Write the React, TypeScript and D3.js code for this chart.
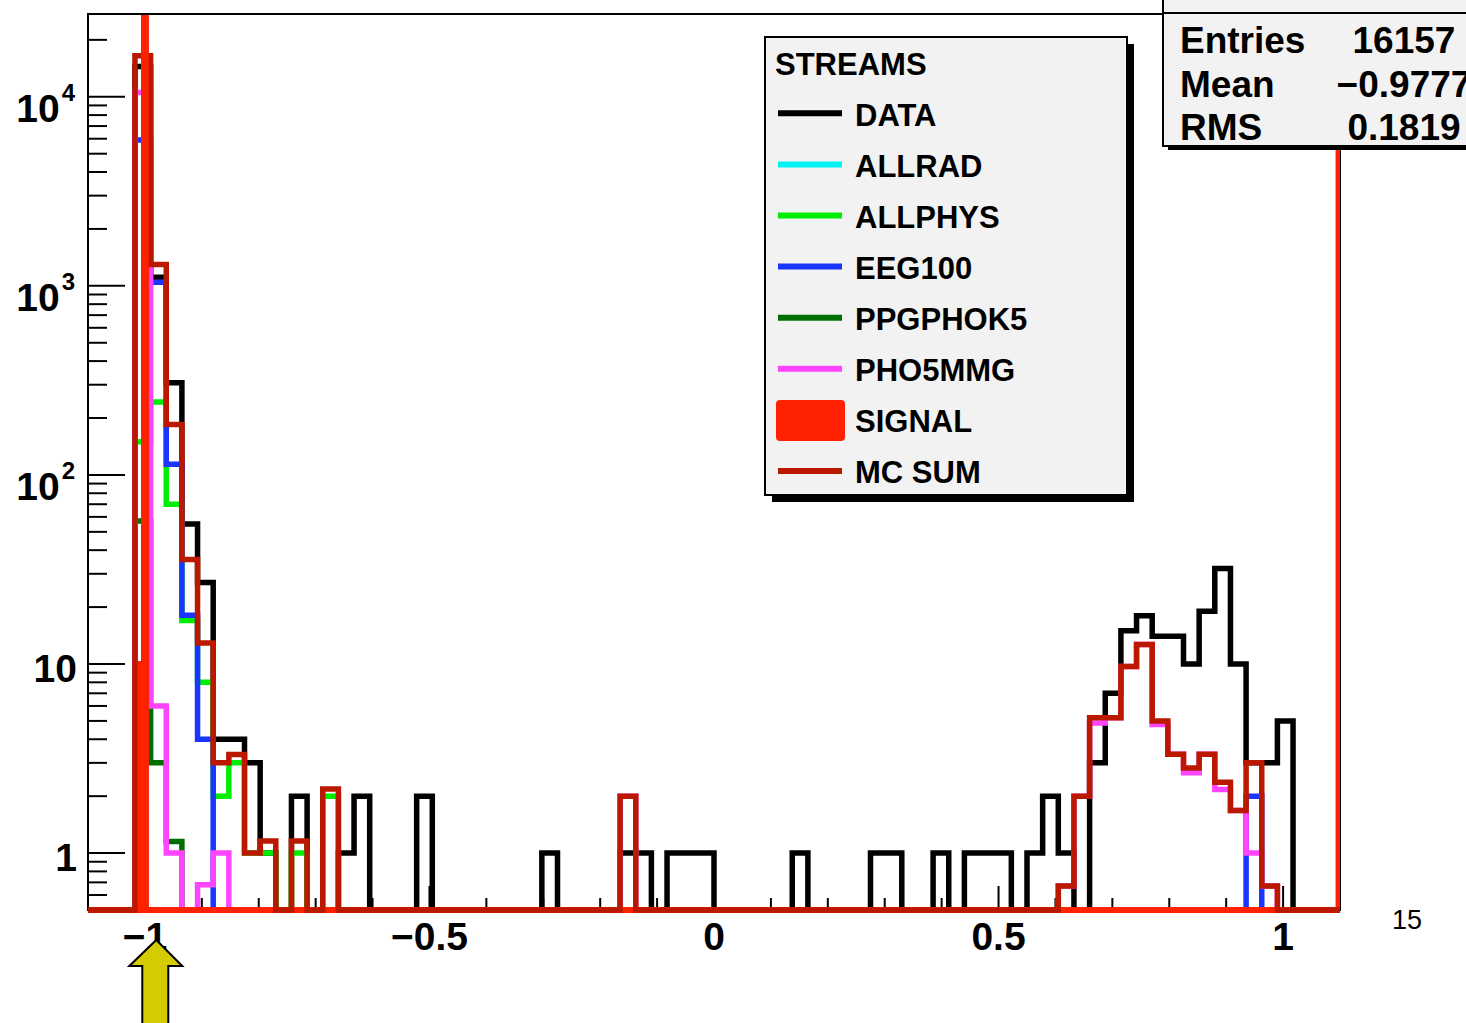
import React from "react";
import * as d3 from "d3";

// ---------- data (80 bins from -1.1 to 1.1) ----------
const xLow = -1.1;
const xHigh = 1.1;
const nBins = 80;

const dataCounts = [
  0, 0, 0, 14450, 1112, 307, 55, 27, 4, 4,
  3, 1, 0, 2, 0, 0, 1, 2, 0, 0,
  0, 2, 0, 0, 0, 0, 0, 0, 0, 1,
  0, 0, 0, 0, 1, 1, 0, 1, 1, 1,
  0, 0, 0, 0, 0, 1, 0, 0, 0, 0,
  1, 1, 0, 0, 1, 0, 1, 1, 1, 0,
  1, 2, 1, 0, 3, 7, 15, 18, 14, 14,
  10, 19, 32, 10, 3, 3, 5, 0, 0, 0,
];

const allradCounts = new Array(80).fill(0);

const allphysCounts = [
  0, 0, 0, 150, 243, 70, 17, 8, 2, 3,
  1, 1, 0, 1, 0, 2, 0, 0, 0, 0,
  0, 0, 0, 0, 0, 0, 0, 0, 0, 0,
  0, 0, 0, 0, 0, 0, 0, 0, 0, 0,
  0, 0, 0, 0, 0, 0, 0, 0, 0, 0,
  0, 0, 0, 0, 0, 0, 0, 0, 0, 0,
  0, 0, 0, 0, 0.33, 0, 0, 0, 0.22, 0,
  0.16, 0, 0.2, 0, 0, 0, 0, 0, 0, 0,
];

const eeg100Counts = [
  0, 0, 0, 5900, 1046, 114, 18.1, 4, 0, 0,
  0, 0, 0, 0, 0, 0, 0, 0, 0, 0,
  0, 0, 0, 0, 0, 0, 0, 0, 0, 0,
  0, 0, 0, 0, 0, 0, 0, 0, 0, 0,
  0, 0, 0, 0, 0, 0, 0, 0, 0, 0,
  0, 0, 0, 0, 0, 0, 0, 0, 0, 0,
  0, 0, 0, 0, 0, 0, 0, 0, 0, 0,
  0, 0, 0, 0, 2, 0, 0, 0, 0, 0,
];

const ppgphok5Counts = [
  0, 0, 0, 57, 3, 1.15, 0, 0, 0, 0,
  0, 0, 0, 0, 0, 0, 0, 0, 0, 0,
  0, 0, 0, 0, 0, 0, 0, 0, 0, 0,
  0, 0, 0, 0, 0, 0, 0, 0, 0, 0,
  0, 0, 0, 0, 0, 0, 0, 0, 0, 0,
  0, 0, 0, 0, 0, 0, 0, 0, 0, 0,
  0, 0, 0, 0, 0, 0, 0, 0, 0, 0,
  0, 0, 0, 0, 0, 0, 0, 0, 0, 0,
];

const pho5mmgCounts = [
  0, 0, 0, 10520, 6, 1, 0, 0.68, 1, 0,
  0, 0, 0, 0, 0, 0, 0, 0, 0, 0,
  0, 0, 0, 0, 0, 0, 0, 0, 0, 0,
  0, 0, 0, 0, 2, 0, 0, 0, 0, 0,
  0, 0, 0, 0, 0, 0, 0, 0, 0, 0,
  0, 0, 0, 0, 0, 0, 0, 0, 0, 0,
  0, 0, 0.67, 2, 4.87, 5.2, 9.7, 12.7, 4.78, 3.33,
  2.66, 3.33, 2.17, 1.68, 1, 0.67, 0, 0, 0, 0,
];

const mcSumCounts = [
  0, 0, 0, 16500, 1295, 185, 35.7, 12.9, 3, 3.32,
  1, 1.16, 0, 1.16, 0, 2.18, 0, 0, 0, 0,
  0, 0, 0, 0, 0, 0, 0, 0, 0, 0,
  0, 0, 0, 0, 2, 0, 0, 0, 0, 0,
  0, 0, 0, 0, 0, 0, 0, 0, 0, 0,
  0, 0, 0, 0, 0, 0, 0, 0, 0, 0,
  0, 0, 0.67, 2, 5.2, 5.2, 9.7, 12.7, 5, 3.33,
  2.82, 3.33, 2.37, 1.68, 3, 0.67, 0, 0, 0, 0,
];

// signal: fine, irregular bins
const signalLo = [-1.0072, -1.0016, 1.0975];
const signalHi = [-1.0016, -0.9984, 1.1];
const signalVal = [10, 300000, 300000];

const streamNames = ["DATA", "ALLRAD", "ALLPHYS", "EEG100", "PPGPHOK5", "PHO5MMG", "SIGNAL", "MC SUM"];
const streamColors = ["#000000", "#00f4f4", "#00ee00", "#1a35ff", "#006e00", "#ff44ff", "#ff2200", "#bb1800"];

const yMajorLabels = ["1", "10", "10^2", "10^3", "10^4"];
const yMajorValues = [1, 10, 100, 1000, 10000];
const xMajorValues = [-1, -0.5, 0, 0.5, 1];
const xMajorLabels = ["\u22121", "\u22120.5", "0", "0.5", "1"];

const statsLabels = ["Entries", "Mean", "RMS"];
const statsValues = ["16157", "\u22120.9777", "0.1819"];

const cutValue = -0.98;
const pageNumber = "15";

// ---------- layout ----------
const W = 1466;
const H = 1023;
const L = 88, R = 1340, T = 14, B = 910;
const yMin = 0.5, yMax = 27400;
const FONT = "'Liberation Sans', Arial, Helvetica, sans-serif";

export default function App() {
  const x = d3.scaleLinear().domain([xLow, xHigh]).range([L, R]);
  const y = d3.scaleLog().domain([yMin, yMax]).range([B, T]);
  const edges = d3.range(nBins + 1).map((i) => xLow + (i * (xHigh - xLow)) / nBins);
  const yv = (v: number) => (v > yMin ? y(v) : B);

  const histPath = (vals: number[]) => {
    const p = d3.path();
    p.moveTo(x(edges[0]), B);
    vals.forEach((v, i) => {
      p.lineTo(x(edges[i]), yv(v));
      p.lineTo(x(edges[i + 1]), yv(v));
    });
    p.lineTo(x(edges[nBins]), B);
    return p.toString();
  };

  const signalPath = (onlySpike: boolean) => {
    const p = d3.path();
    const idx = d3.range(signalLo.length).filter((i) => !onlySpike || signalLo[i] < 0);
    if (!onlySpike) p.moveTo(x(xLow), B);
    else p.moveTo(x(signalLo[idx[0]]), B);
    idx.forEach((i) => {
      p.lineTo(x(signalLo[i]), B);
      p.lineTo(x(signalLo[i]), yv(signalVal[i]));
      p.lineTo(x(signalHi[i]), yv(signalVal[i]));
      p.lineTo(x(signalHi[i]), B);
    });
    if (!onlySpike) p.lineTo(x(xHigh), B);
    return p.toString();
  };

  // y ticks
  const yMinor: number[] = [];
  [-1, 0, 1, 2, 3, 4].forEach((e) => {
    for (let k = 2; k <= 9; k++) {
      const v = k * Math.pow(10, e);
      if (v > yMin && v < yMax) yMinor.push(v);
    }
  });
  const xMinor = d3.range(-10, 11).map((i) => i / 10).filter((v) => !xMajorValues.some((m) => Math.abs(m - v) < 1e-9));

  const hists: { vals: number[]; color: string }[] = [
    { vals: dataCounts, color: streamColors[0] },
    { vals: allradCounts, color: streamColors[1] },
    { vals: allphysCounts, color: streamColors[2] },
    { vals: eeg100Counts, color: streamColors[3] },
    { vals: ppgphok5Counts, color: streamColors[4] },
    { vals: pho5mmgCounts, color: streamColors[5] },
  ];

  const lw = 5.5;
  const legX = 765, legY = 37, legW = 362, legH = 458;
  const rowY0 = 113.3, rowDY = 51.1;

  const cx = x(cutValue);

  return (
    <div style={{ position: "absolute", left: 0, top: 0 }}>
      <svg width={W} height={H} style={{ display: "block", background: "#fff" }} fontFamily={FONT}>
        <defs>
          <clipPath id="frameClip">
            <rect x={L} y={T + 1} width={R - L} height={B - T + 4} />
          </clipPath>
        </defs>

        {/* frame and ticks */}
        <rect x={L} y={T} width={R - L} height={B - T} fill="none" stroke="#000" strokeWidth={2} />
        {yMajorValues.map((v) => (
          <line key={"ym" + v} x1={L} x2={L + 37} y1={y(v)} y2={y(v)} stroke="#000" strokeWidth={2} />
        ))}
        {yMinor.map((v) => (
          <line key={"yn" + v} x1={L} x2={L + 19} y1={y(v)} y2={y(v)} stroke="#000" strokeWidth={2} />
        ))}
        {xMajorValues.map((v) => (
          <line key={"xm" + v} x1={x(v)} x2={x(v)} y1={B} y2={B - 24} stroke="#000" strokeWidth={2} />
        ))}
        {xMinor.map((v) => (
          <line key={"xn" + v} x1={x(v)} x2={x(v)} y1={B} y2={B - 12} stroke="#000" strokeWidth={2} />
        ))}

        {/* histograms */}
        <g clipPath="url(#frameClip)" fill="none" strokeLinejoin="miter" strokeLinecap="butt">
          {hists.map((h, i) => (
            <path key={"h" + i} d={histPath(h.vals)} stroke={h.color} strokeWidth={lw} />
          ))}
          <path d={signalPath(false)} stroke={streamColors[6]} strokeWidth={6} />
          <path d={histPath(mcSumCounts)} stroke={streamColors[7]} strokeWidth={lw} />
          <path d={signalPath(true)} stroke={streamColors[6]} strokeWidth={5.5} />
        </g>

        {/* axis labels */}
        {xMajorValues.map((v, i) => (
          <text key={"xl" + v} x={x(v)} y={950} textAnchor="middle" fontSize={39} fontWeight="bold">
            {xMajorLabels[i]}
          </text>
        ))}
        {yMajorValues.map((v, i) => {
          const lab = yMajorLabels[i];
          if (lab.includes("^")) {
            const [base, exp] = lab.split("^");
            return (
              <text key={"yl" + v} x={75} y={y(v) + 25} textAnchor="end" fontSize={39} fontWeight="bold">
                <tspan>{base}</tspan>
                <tspan dx={2} dy={-21} fontSize={24}>{exp}</tspan>
              </text>
            );
          }
          return (
            <text key={"yl" + v} x={77} y={y(v) + 18} textAnchor="end" fontSize={39} fontWeight="bold">
              {lab}
            </text>
          );
        })}

        {/* legend */}
        <rect x={legX + 7} y={legY + 7} width={legW} height={legH} fill="#000" />
        <rect x={legX} y={legY} width={legW} height={legH} fill="#f2f2f2" stroke="#000" strokeWidth={2} />
        <text x={775} y={75} fontSize={31} fontWeight="bold">STREAMS</text>
        {streamNames.map((n, i) => {
          const cy = rowY0 + i * rowDY;
          return (
            <g key={"leg" + n}>
              {n === "SIGNAL" ? (
                <rect x={776} y={cy - 20} width={69} height={41} rx={4} fill={streamColors[i]} />
              ) : (
                <line x1={778} x2={842} y1={cy} y2={cy} stroke={streamColors[i]} strokeWidth={6} />
              )}
              <text x={855} y={cy + 12.4} fontSize={31} fontWeight="bold">{n}</text>
            </g>
          );
        })}

        {/* stats box */}
        <rect x={1168} y={-20} width={320} height={170} fill="#000" />
        <rect x={1163} y={-24} width={330} height={170} fill="#f2f2f2" stroke="#000" strokeWidth={2} />
        <line x1={1163} x2={1466} y1={13} y2={13} stroke="#000" strokeWidth={2} />
        {statsLabels.map((s, i) => (
          <g key={"st" + s}>
            <text x={1180} y={53 + i * 43.5} fontSize={37} fontWeight="bold">{s}</text>
            <text x={1404} y={53 + i * 43.5} fontSize={37} fontWeight="bold" textAnchor="middle">
              {statsValues[i]}
            </text>
          </g>
        ))}

        {/* cut arrow */}
        <polygon
          points={[
            [cx, 940],
            [cx + 26, 966],
            [cx + 12, 966],
            [cx + 12, 1030],
            [cx - 14, 1030],
            [cx - 14, 966],
            [cx - 27, 966],
          ]
            .map((p) => p.join(","))
            .join(" ")}
          fill="#d4cc00"
          stroke="#000"
          strokeWidth={2}
        />

        <text x={1392} y={929} fontSize={27} fontFamily={FONT}>{pageNumber}</text>
      </svg>
    </div>
  );
}
